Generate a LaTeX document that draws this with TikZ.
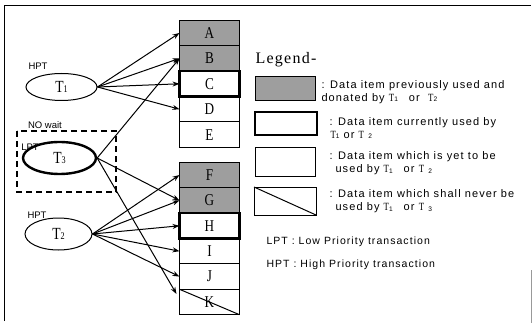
\documentclass[tikz,border=0pt]{standalone}
\usepackage{fontspec}
\setmainfont{Liberation Serif}
\setsansfont{Liberation Sans}
\newfontfamily\cellfont[FakeStretch=0.8]{Liberation Serif}
\newfontfamily\descfont[LetterSpace=10]{Liberation Sans}
\newfontfamily\legfont[LetterSpace=8]{Liberation Serif}
\usetikzlibrary{positioning,shapes.geometric,arrows.meta}
\newcommand{\tsub}[1]{\raisebox{-0.5pt}{\scalebox{0.6}{#1}}}
\tikzset{
  cell/.style={draw, line width=1pt, minimum width=60pt, minimum height=25.4pt,
    inner sep=0pt, outer sep=0pt, font=\cellfont\fontsize{16.5}{16.5}\selectfont},
  used/.style={fill=black!38},
  busy/.style={line width=2.4pt},
  trans/.style={draw, ellipse, line width=1pt, minimum width=71pt, minimum height=27pt,
    inner sep=0pt, font=\cellfont\fontsize{17}{17}\selectfont},
  tag/.style={font=\sffamily\fontsize{9.5}{9.5}\selectfont, inner sep=0pt},
  desc/.style={anchor=west, align=left, inner sep=0pt,
    font=\descfont\fontsize{11}{13}\selectfont}
}
\begin{document}
\begin{tikzpicture}[>={Stealth[length=7pt,width=5pt]},x=1pt,y=-1pt,line width=1pt]
            \useasboundingbox (0,0) rectangle (532,323);
            % frame
            \draw (4,321) -- (4,6) -- (531,6);
            \draw[black!40] (531,270) -- (531,323);
            % data items
            \node[cell,used] (A) at (209.5,33) {A};
            \node[cell,used,below=0pt of A] (B) {B};
            \node[cell,below=0pt of B] (C) {C};
            \node[cell,below=0pt of C] (D) {D};
            \node[cell,below=0pt of D] (E) {E};
            \draw[busy] (C.north west) rectangle (C.south east);
            \node[cell,used] (F) at (209.5,175) {F};
            \node[cell,used,below=0pt of F] (G) {G};
            \node[cell,below=0pt of G] (H) {H};
            \node[cell,below=0pt of H] (I) {I};
            \node[cell,below=0pt of I] (J) {J};
            \node[cell,below=0pt of J] (K) {K};
            \draw[busy] (H.north west) rectangle (H.south east);
            \draw (K.north west) -- (K.south east);
            % transactions
            \node[trans] (T1) at (61.5,87) {T\tsub{1}};
            \node[trans,line width=2.4pt,minimum width=73pt,minimum height=32pt] (T3) at (59.5,158) {T\tsub{3}};
            \node[trans,minimum width=67pt,minimum height=32pt] (T2) at (58.5,234) {T\tsub{2}};
            \node[tag] (hpt1) at (38,66) {HPT};
            \node[tag] (nowait) at (45,125) {NO wait};
            \node[tag] (lpt) at (30,147) {LPT};
            \node[tag] (hpt2) at (37,215) {HPT};
            \draw[line width=1.8pt,dash pattern=on 6pt off 4pt] (17,131) rectangle (116,192);
            % accesses
            \draw[->] (T1.east) -- (A.west);
            \draw[->] (T1.east) -- (B.west);
            \draw[->] (T1.east) -- (C.west);
            \draw[->] (T1.east) -- (D.west);
            \draw[->] (T3.east) -- (B.west);
            \draw[->] (T3.east) -- (G.west);
            \draw[->] (T3.east) -- ([yshift=8pt,xshift=-3pt]K.west);
            \draw[->] (T2.east) -- (F.west);
            \draw[->] (T2.east) -- (G.west);
            \draw[->] (T2.east) -- (H.west);
            \draw[->] (T2.east) -- (I.west);
            \draw[->] (T2.east) -- (J.west);
            % legend
            \node[anchor=west,inner sep=0pt,font=\legfont\fontsize{16}{16}\selectfont] (legend) at (255,60) {Legend-};
            \node[cell,used,minimum width=60pt,minimum height=24pt] (lgused) at (285,89) {};
            \node[cell,busy,minimum width=62pt,minimum height=23pt] (lgbusy) at (286,123.5) {};
            \node[cell,minimum width=60pt,minimum height=29pt] (lgfree) at (285,162) {};
            \node[cell,minimum width=62pt,minimum height=28pt] (lgnever) at (285,201) {};
            \draw (lgnever.north west) -- (lgnever.south east);
            \node[desc] (dused) at (321,92) {: Data item previously used and\\donated by {\cellfont T}\tsub{1}\quad or\ \ {\cellfont T}\tsub{2}};
            \node[desc] (dbusy) at (329,128) {: Data item currently used by\\\hspace{1pt}{\cellfont T}\tsub{1} or {\cellfont T} \tsub{2}};
            \node[desc] (dfree) at (329,163.5) {: Data item which is yet to be\\\hspace{6pt}used by {\cellfont T}\tsub{1}\quad or {\cellfont T} \tsub{2}};
            \node[desc] (dnever) at (329,201.5) {: Data item which shall never be\\\hspace{6pt}used by {\cellfont T}\tsub{1}\quad or {\cellfont T} \tsub{3}};
            \node[desc,font=\descfont\fontsize{10.5}{12}\selectfont] (lptdef) at (266,242) {LPT : Low Priority transaction};
            \node[desc,font=\descfont\fontsize{10.5}{12}\selectfont] (hptdef) at (266,265) {HPT : High Priority transaction};
        \end{tikzpicture}
\end{document}
